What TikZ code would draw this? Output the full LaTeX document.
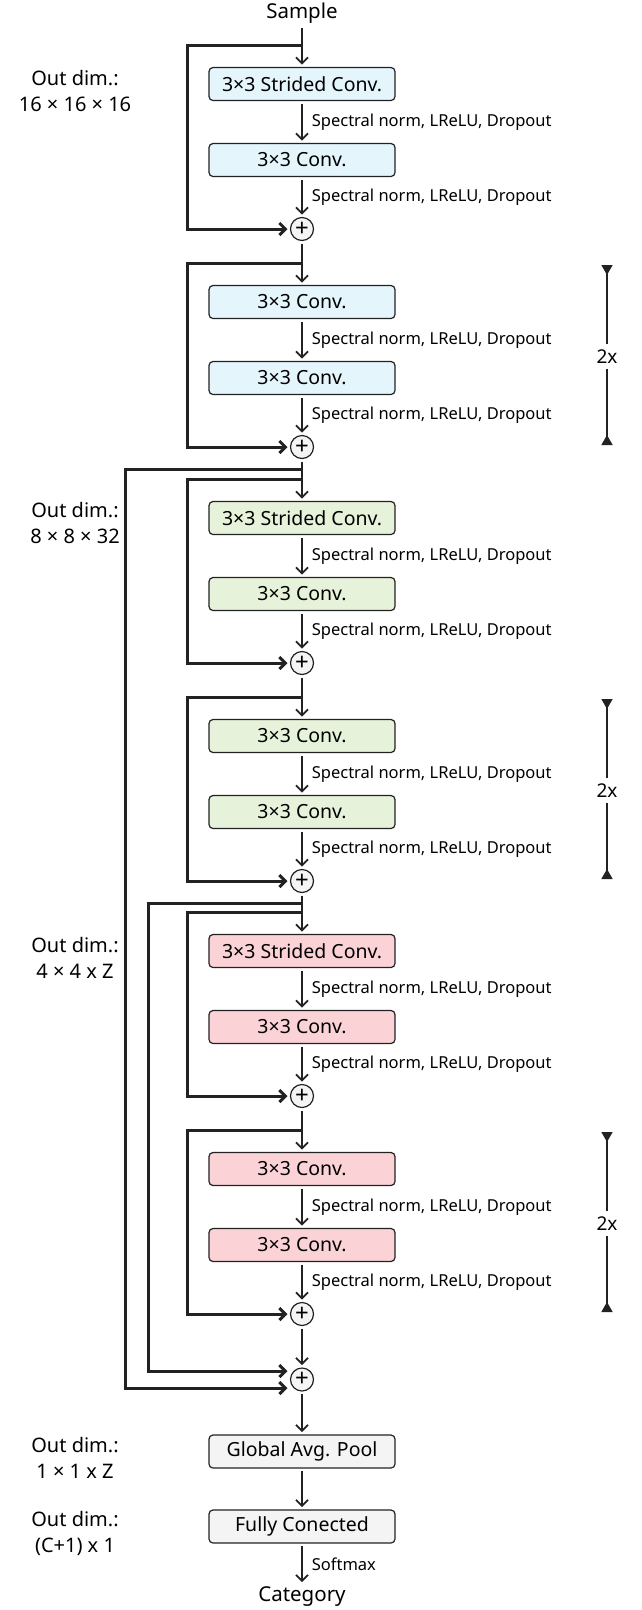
\documentclass[tikz,border=0pt]{standalone}
\usepackage{fontspec}
\setmainfont{Noto Sans}
\usetikzlibrary{arrows.meta}
\tikzset{>={Straight Barb[length=6pt,width=12pt]}}
\definecolor{convblue}{HTML}{E4F5FC}
\definecolor{convgreen}{HTML}{E6F2DA}
\definecolor{convred}{HTML}{FBD3D7}
\definecolor{convgray}{HTML}{F4F4F4}
\definecolor{ink}{HTML}{222222}

\begin{document}
\begin{tikzpicture}[x=1pt,y=-1pt,
  convbox/.style={draw=ink,line width=1.2pt,rounded corners=4pt,minimum width=186pt,
    minimum height=33pt,inner sep=0pt,outer sep=3pt,font=\fontsize{19.5}{22}\selectfont},
  plusnode/.style={draw=ink,circle,line width=1.2pt,minimum size=23pt,inner sep=0pt,
    fill=convgray,outer sep=3pt,font=\fontsize{24}{24}\selectfont},
  flowarrow/.style={->,draw=ink,line width=1.7pt},
  skipline/.style={->,draw=ink,line width=3pt},
  actlabel/.style={right,inner sep=2pt,xshift=7pt,font=\fontsize{16.5}{18}\selectfont},
  dimlabel/.style={align=center,font=\fontsize{20}{26}\selectfont},
  textnode/.style={inner sep=2pt,outer sep=3pt,font=\fontsize{20.5}{22}\selectfont},
  repline/.style={-{Triangle[reversed,length=10pt,width=11pt]},draw=ink,line width=1.6pt}]
  \useasboundingbox (0,0) rectangle (641,1610);
  % Define variables
  \pgfmathsetmacro{\cx}{302}   % main column
  \pgfmathsetmacro{\repx}{607} % repeat brackets
  \coordinate (inner) at (187,0);
  \coordinate (outerA) at (125,0);
  \coordinate (outerB) at (148,0);

  \node[textnode] (sample) at (\cx,13) {Sample};

  % Residual blocks
  \foreach \b/\T/\col/\prevnode/\strided in {1/45/convblue/sample/1, 2/263/convblue/plus1/0,
      3/479/convgreen/plus2/1, 4/697/convgreen/plus3/0, 5/912/convred/plus4/1, 6/1130/convred/plus5/0} {
    \ifnum\strided=1 \def\firstconv{3×3 Strided Conv.}\else\def\firstconv{3×3 Conv.}\fi
    \coordinate (top\b) at (\cx,\T);
    \node[convbox,fill=\col] (conv\b a) at (\cx,\T+39) {\firstconv};
    \node[convbox,fill=\col] (conv\b b) at (\cx,\T+115) {3×3 Conv.};
    \node[plusnode] (plus\b) at (\cx,\T+184) {+};
    \draw[flowarrow] (\prevnode) -- (conv\b a);
    \draw[flowarrow] (conv\b a) -- node[actlabel] {Spectral norm, LReLU, Dropout} (conv\b b);
    \draw[flowarrow] (conv\b b) -- node[actlabel] {Spectral norm, LReLU, Dropout} (plus\b);
    \draw[skipline] (top\b) -- (top\b -| inner) |- (plus\b);
    % repeat brackets
    \ifnum\strided=0
      \node[inner sep=5pt,font=\fontsize{19}{20}\selectfont] (rep\b) at (\repx,\T+93.5) {2x};
      \coordinate (rep\b t) at (\repx,\T+2);
      \coordinate (rep\b b) at (\repx,\T+182);
      \draw[repline] (rep\b) -- (rep\b t);
      \draw[repline] (rep\b) -- (rep\b b);
    \fi
  }

  % Long skips and head
  \node[plusnode] (plusF) at (\cx,1379.5) {+};
  \coordinate (skipA) at (\cx,469);
  \coordinate (skipB) at (\cx,903);
  \draw[skipline] (skipA) -- (skipA -| outerA) |- ([yshift=-8.5pt]plusF.west);
  \draw[skipline] (skipB) -- (skipB -| outerB) |- ([yshift=8.5pt]plusF.west);
  \draw[flowarrow] (plus6) -- (plusF);

  \node[convbox,fill=convgray] (pool) at (\cx,1451.5) {Global Avg. Pool};
  \node[convbox,fill=convgray] (dense) at (\cx,1526.5) {Fully Conected};
  \node[textnode] (category) at (\cx,1597) {Category};
  \draw[flowarrow] (plusF) -- (pool);
  \draw[flowarrow] (pool) -- (dense);
  \draw[flowarrow] (dense) -- node[actlabel] {Softmax} (category);

  % Output dimensions
  \node[dimlabel] (dim1) at (75,91) {Out dim.:\\16 × 16 × 16};
  \node[dimlabel] (dim2) at (75,523) {Out dim.:\\8 × 8 × 32};
  \node[dimlabel] (dim3) at (75,957.5) {Out dim.:\\4 × 4 x Z};
  \node[dimlabel] (dim4) at (75,1458) {Out dim.:\\1 × 1 x Z};
  \node[dimlabel] (dim5) at (75,1533.5) {Out dim.:\\(C+1) x 1};
\end{tikzpicture}
\end{document}
